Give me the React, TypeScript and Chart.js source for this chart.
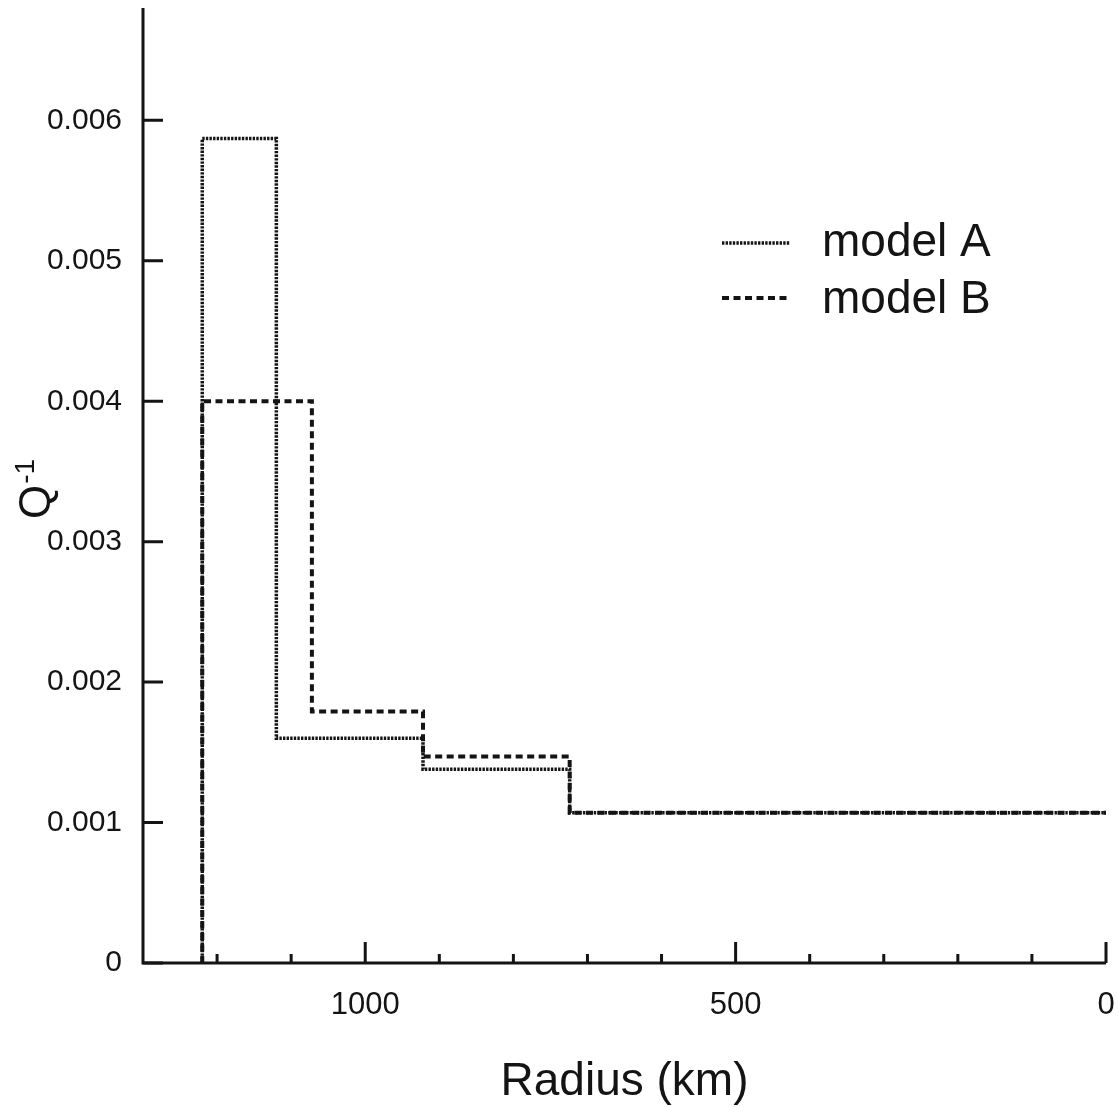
import React, { useEffect, useRef } from 'react';
import { Chart, registerables } from 'chart.js';

Chart.register(...registerables);

// ---- data ----
const radiusMajorTicks = [1000, 500, 0];
const radiusMinorTicks = [1200, 1100, 900, 800, 700, 600, 400, 300, 200, 100];
const qTicks = [0, 0.001, 0.002, 0.003, 0.004, 0.005, 0.006];

const modelABounds = [1220, 1120, 922, 724, 0];
const modelAValues = [0.00587, 0.0016, 0.00138, 0.00107];
const modelBBounds = [1220, 1072, 922, 724, 0];
const modelBValues = [0.004, 0.00179, 0.00147, 0.00107];

const legendLabels = ['model A', 'model B'];

const FONT = '"Liberation Sans", Arial, Helvetica, sans-serif';
const INK = '#141414';
const DOT = [2.4, 1.2];
const DASH = [7, 4.5];

function stepPath(bounds: number[], values: number[]) {
  const pts: { x: number; y: number }[] = [{ x: bounds[0], y: 0 }];
  values.forEach((v, i) => {
    pts.push({ x: bounds[i], y: v });
    pts.push({ x: bounds[i + 1], y: v });
  });
  return pts;
}

const zeroPad = (s: any) => {
  s.paddingTop = 0;
  s.paddingBottom = 0;
  s.paddingLeft = 0;
  s.paddingRight = 0;
};

const decorPlugin = {
  id: 'decor',
  afterDatasetsDraw(chart: any) {
    const ctx: CanvasRenderingContext2D = chart.ctx;
    const xs = chart.scales.x;
    const ys = chart.scales.y;
    const { left, right, top, bottom } = chart.chartArea;
    ctx.save();
    ctx.strokeStyle = INK;
    ctx.lineWidth = 3;
    ctx.lineCap = 'butt';
    ctx.setLineDash([]);
    // axes
    ctx.beginPath();
    ctx.moveTo(left, top);
    ctx.lineTo(left, bottom);
    ctx.moveTo(left - 1.5, bottom);
    ctx.lineTo(right, bottom);
    ctx.stroke();
    // y ticks (inward)
    ctx.beginPath();
    qTicks.forEach((v) => {
      const y = ys.getPixelForValue(v);
      ctx.moveTo(left, y);
      ctx.lineTo(left + 20, y);
    });
    // x ticks (inward)
    radiusMajorTicks.forEach((v) => {
      const x = xs.getPixelForValue(v);
      ctx.moveTo(x, bottom);
      ctx.lineTo(x, bottom - 21);
    });
    radiusMinorTicks.forEach((v) => {
      const x = xs.getPixelForValue(v);
      ctx.moveTo(x, bottom);
      ctx.lineTo(x, bottom - 9);
    });
    ctx.stroke();

    // legend
    const legendDash = [DOT, DASH];
    const legendWidth = [3.5, 4];
    const lineY = [243, 298];
    const textY = [256, 313];
    legendLabels.forEach((lab, i) => {
      ctx.setLineDash(legendDash[i]);
      ctx.lineWidth = legendWidth[i];
      ctx.beginPath();
      ctx.moveTo(722, lineY[i]);
      ctx.lineTo(790, lineY[i]);
      ctx.stroke();
      ctx.setLineDash([]);
      ctx.fillStyle = INK;
      ctx.font = `46px ${FONT}`;
      ctx.textAlign = 'left';
      ctx.textBaseline = 'alphabetic';
      ctx.fillText(lab, 822, textY[i]);
    });

    // x title
    ctx.fillStyle = INK;
    ctx.font = `46px ${FONT}`;
    ctx.textAlign = 'center';
    ctx.textBaseline = 'alphabetic';
    ctx.fillText('Radius (km)', (left + right) / 2, 1095);

    // y title Q^-1 (rotated)
    ctx.translate(50, 519);
    ctx.rotate(-Math.PI / 2);
    ctx.textAlign = 'left';
    ctx.font = `44px ${FONT}`;
    ctx.fillText('Q', 0, 0);
    const qw = ctx.measureText('Q').width;
    ctx.font = `28px ${FONT}`;
    ctx.fillText('-1', qw + 1, -16);
    ctx.restore();
  },
};

export default function App() {
  const ref = useRef<HTMLCanvasElement>(null);
  useEffect(() => {
    const canvas = ref.current;
    if (!canvas) return;
    const common = {
      pointRadius: 0,
      fill: false,
      tension: 0,
      borderColor: INK,
      borderCapStyle: 'butt' as const,
      borderJoinStyle: 'miter' as const,
    };
    const chart = new Chart(canvas, {
      type: 'line',
      data: {
        datasets: [
          { ...common, label: legendLabels[1], data: stepPath(modelBBounds, modelBValues), borderDash: DASH, borderWidth: 4, order: 2 },
          { ...common, label: legendLabels[0], data: stepPath(modelABounds, modelAValues), borderDash: DOT, borderWidth: 3.5, order: 1 },
        ],
      },
      options: {
        animation: false,
        responsive: false,
        devicePixelRatio: 1,
        layout: { padding: { top: 8, right: 13, left: 0, bottom: 0 } },
        plugins: { legend: { display: false }, tooltip: { enabled: false } },
        scales: {
          x: {
            type: 'linear',
            reverse: true,
            min: 0,
            max: 1300,
            afterFit: (s: any) => { s.height = 144; zeroPad(s); },
            afterBuildTicks: (s: any) => { s.ticks = radiusMajorTicks.map((v) => ({ value: v })); },
            grid: { display: false, drawTicks: false },
            border: { display: false },
            ticks: {
              color: INK,
              font: { family: FONT, size: 31 },
              padding: 24,
              maxRotation: 0,
              autoSkip: false,
              callback: (v: any) => String(v),
            },
          },
          y: {
            type: 'linear',
            min: 0,
            max: 0.0068,
            afterFit: (s: any) => { s.width = 143; zeroPad(s); },
            afterBuildTicks: (s: any) => { s.ticks = qTicks.map((v) => ({ value: v })); },
            grid: { display: false, drawTicks: false },
            border: { display: false },
            ticks: {
              color: INK,
              font: { family: FONT, size: 30 },
              padding: 21,
              autoSkip: false,
              callback: (v: any) => (v === 0 ? '0' : Number(v).toFixed(3)),
            },
          },
        },
      },
      plugins: [decorPlugin],
    });
    return () => chart.destroy();
  }, []);
  return (
    <div style={{ position: 'absolute', left: 0, top: 0, width: 1119, height: 1107, background: '#fff' }}>
      <canvas ref={ref} width={1119} height={1107} style={{ display: 'block' }} />
    </div>
  );
}
